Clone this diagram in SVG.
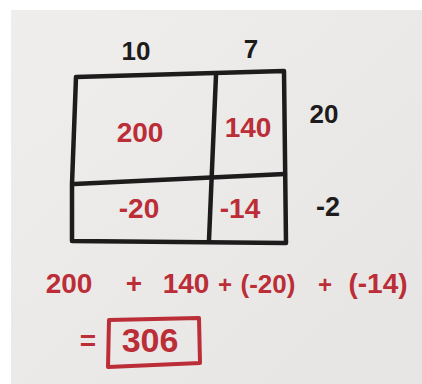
<svg xmlns="http://www.w3.org/2000/svg" width="422" height="384" viewBox="0 0 422 384">
<style>
.ink{fill:none;stroke:#1d1b1c;stroke-width:4.5;stroke-linecap:round;stroke-linejoin:round}
.k{font-family:"Liberation Sans",Arial,sans-serif;font-weight:bold;fill:#1d1b1c;text-anchor:middle}
.r{font-family:"Liberation Sans",Arial,sans-serif;font-weight:bold;fill:#bb2d37;text-anchor:middle}
</style>
<defs>
<linearGradient id="bg" x1="0" y1="0" x2="1" y2="1">
<stop offset="0" stop-color="#efeeec"/>
<stop offset="1" stop-color="#e6e5e3"/>
</linearGradient>
</defs>
<rect x="0" y="0" width="422" height="384" fill="#ffffff"/>
<rect x="11" y="10" width="411" height="374" fill="url(#bg)"/>
<g id="connectors">
<path class="ink" d="M76 77 L284 71 L286 243 L72 241 L72 184 L76 77"/>
<path class="ink" d="M74 184 L285 174"/>
<path class="ink" d="M216 75 L209 240"/>
</g>
<g id="label-10"><text class="k" x="136" y="60" font-size="26">10</text></g>
<g id="label-7"><text class="k" x="251" y="58" font-size="26">7</text></g>
<g id="label-20"><text class="k" x="324" y="123" font-size="26">20</text></g>
<g id="label-neg2"><text class="k" x="328" y="216" font-size="27">-2</text></g>
<g id="cell-200"><text class="r" x="140" y="142" font-size="28">200</text></g>
<g id="cell-140"><text class="r" x="248" y="137" font-size="28">140</text></g>
<g id="cell-neg20"><text class="r" x="139" y="218" font-size="28">-20</text></g>
<g id="cell-neg14"><text class="r" x="240" y="218" font-size="28">-14</text></g>
<g id="equation">
<text class="r" x="69" y="293" font-size="28">200</text>
<text class="r" x="134" y="293" font-size="28">+</text>
<text class="r" x="186" y="293" font-size="28">140</text>
<text class="r" x="225" y="293" font-size="24">+</text>
<text class="r" x="268" y="293" font-size="26">(-20)</text>
<text class="r" x="325" y="293" font-size="24">+</text>
<text class="r" x="378" y="293" font-size="28">(-14)</text>
</g>
<g id="result">
<text class="r" x="88" y="350" font-size="28">=</text>
<path d="M109 320 L199 318 L200 363 L108 367 Z" fill="none" stroke="#bb2d37" stroke-width="4" stroke-linejoin="round"/>
<text class="r" x="150" y="352" font-size="34">306</text>
</g>
</svg>
